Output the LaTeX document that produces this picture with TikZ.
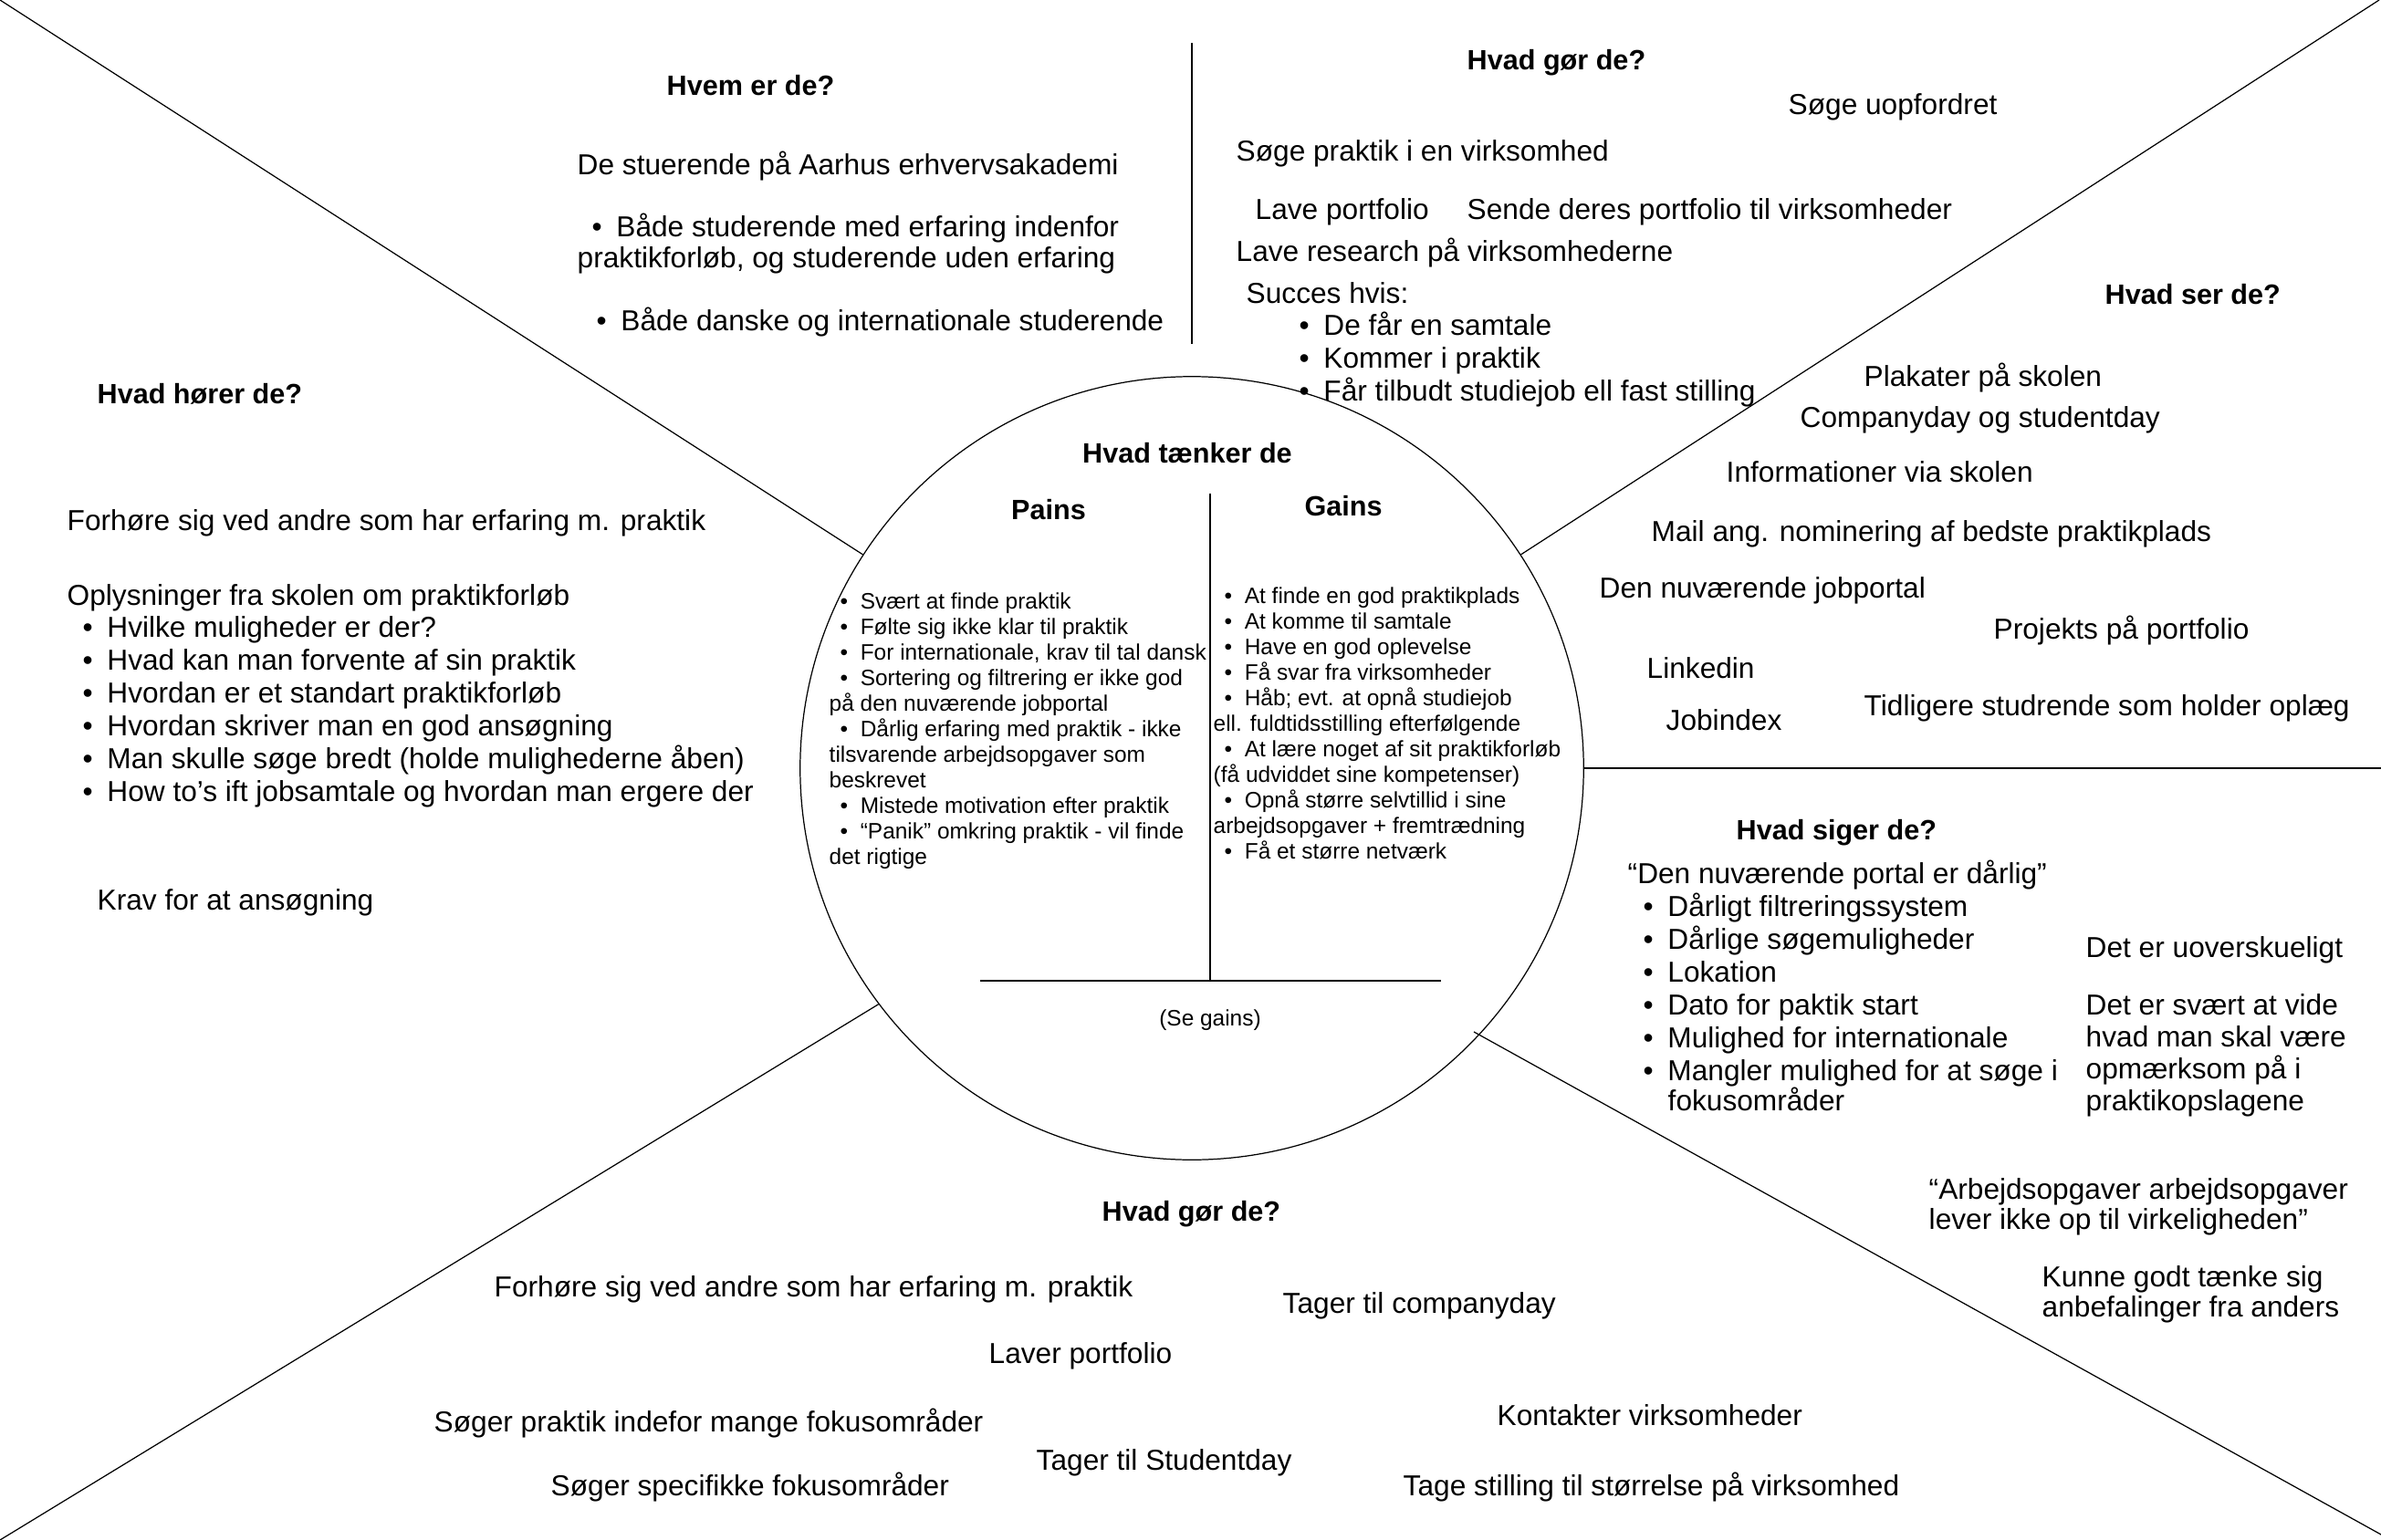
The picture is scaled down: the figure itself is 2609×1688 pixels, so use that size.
\documentclass[tikz,border=0pt]{standalone}
\usepackage{fontspec}
\setmainfont{Liberation Sans}
\usepackage{tikz}

\newcommand{\bul}{\makebox[7.6pt][l]{•}}
\newcommand{\sbul}{\hspace*{3.4pt}\makebox[6.3pt][l]{•}}

\begin{document}
\begin{tikzpicture}[x=0.01cm,y=-0.01cm,
  txt/.style={anchor=base west,inner sep=0,font=\fontsize{9}{11}\selectfont},
  sm/.style={anchor=base west,inner sep=0,font=\fontsize{6.95}{8.4}\selectfont},
  hd/.style={anchor=base west,inner sep=0,font=\fontsize{8.7}{10.5}\selectfont\bfseries},
  divider/.style={line width=0.35pt}]
\useasboundingbox (0,0) rectangle (2609,1688);

% middle circle
\node[circle,draw,divider,minimum size=8.58cm,inner sep=0] (think) at (1306,842) {};
\coordinate (tl) at (0,0);
\coordinate (tr) at (2607,0);
\coordinate (rr) at (2609,842);
\coordinate (br) at (2609,1682);
\coordinate (brin) at (1615,1131);
\coordinate (bl) at (0,1688);
\coordinate (vtop) at (1306,47);
\coordinate (vbot) at (1306,377);
\draw[divider] (tl) -- (think.147);
\draw[divider] (tr) -- (think.33);
\draw[divider] (rr) -- (think.east);
\draw[divider] (br) -- (brin);
\draw[divider] (bl) -- (think.217);
\draw[divider] (vtop) -- (vbot);

% pains / gains split
\coordinate (pgtop) at (1326,541);
\coordinate (pgbot) at (1326,1075);
\coordinate (pgl) at (1074,1075);
\coordinate (pgr) at (1579,1075);
\draw[divider] (pgtop) -- (pgbot);
\draw[divider] (pgl) -- (pgr);
\node[hd,anchor=base] (tanker) at (1301,507) {Hvad tænker de};
\node[hd,anchor=base] (pains) at (1149,569) {Pains};
\node[hd,anchor=base] (gains) at (1472,565) {Gains};
\node[sm,anchor=base] (segains) at (1326,1124) {(Se gains)};
\foreach \t [count=\i from 0] in {
  {\sbul Svært at finde praktik},
  {\sbul Følte sig ikke klar til praktik},
  {\sbul For internationale, krav til tal dansk},
  {\sbul Sortering og filtrering er ikke god},
  {på den nuværende jobportal},
  {\sbul Dårlig erfaring med praktik - ikke},
  {tilsvarende arbejdsopgaver som},
  {beskrevet},
  {\sbul Mistede motivation efter praktik},
  {\sbul “Panik” omkring praktik - vil finde},
  {det rigtige}}
  \node[sm] (pain-\i) at (908,{667+28*\i}) {\t};
\foreach \t [count=\i from 0] in {
  {\sbul At finde en god praktikplads},
  {\sbul At komme til samtale},
  {\sbul Have en god oplevelse},
  {\sbul Få svar fra virksomheder},
  {\sbul Håb; evt. at opnå studiejob},
  {ell. fuldtidsstilling efterfølgende},
  {\sbul At lære noget af sit praktikforløb},
  {(få udviddet sine kompetenser)},
  {\sbul Opnå større selvtillid i sine},
  {arbejdsopgaver + fremtrædning},
  {\sbul Få et større netværk}}
  \node[sm] (gain-\i) at (1329,{661+28*\i}) {\t};

% hvem er de
\node[hd] (hvem) at (730,105) {Hvem er de?};
\node[txt] (hvem-1) at (632,192) {De stuerende på Aarhus erhvervsakademi};
\node[txt] (hvem-2) at (648,259) {\bul Både studerende med erfaring indenfor};
\node[txt] (hvem-3) at (632,294) {praktikforløb, og studerende uden erfaring};
\node[txt] (hvem-4) at (653,362) {\bul Både danske og internationale studerende};

% hvad gør de (top)
\node[hd] (gor) at (1607,77) {Hvad gør de?};
\node[txt] (gor-1) at (1959,126) {Søge uopfordret};
\node[txt] (gor-2) at (1354,176) {Søge praktik i en virksomhed};
\node[txt] (gor-3) at (1375,241) {Lave portfolio};
\node[txt] (gor-4) at (1607,241) {Sende deres portfolio til virksomheder};
\node[txt] (gor-5) at (1354,287) {Lave research på virksomhederne};
\node[txt] (gor-6) at (1365,332) {Succes hvis:};
\foreach \t [count=\i from 0] in {De får en samtale,Kommer i praktik,Får tilbudt studiejob ell fast stilling}
  \node[txt] (succes-\i) at (1423,{367+36*\i}) {\bul\t};

% hvad ser de
\node[hd] (ser) at (2306,333) {Hvad ser de?};
\node[txt] (ser-1) at (2042,423) {Plakater på skolen};
\node[txt] (ser-2) at (1972,468) {Companyday og studentday};
\node[txt] (ser-3) at (1891,528) {Informationer via skolen};
\node[txt] (ser-4) at (1809,593) {Mail ang. nominering af bedste praktikplads};
\node[txt] (ser-5) at (1752,655) {Den nuværende jobportal};
\node[txt] (ser-6) at (2184,700) {Projekts på portfolio};
\node[txt] (ser-7) at (1804,743) {Linkedin};
\node[txt] (ser-8) at (2042,784) {Tidligere studrende som holder oplæg};
\node[txt] (ser-9) at (1825,800) {Jobindex};

% hvad hører de
\node[hd] (horer) at (106,442) {Hvad hører de?};
\node[txt] (horer-1) at (73,581) {Forhøre sig ved andre som har erfaring m. praktik};
\node[txt] (horer-2) at (73,663) {Oplysninger fra skolen om praktikforløb};
\foreach \t [count=\i from 0] in {Hvilke muligheder er der?,Hvad kan man forvente af sin praktik,Hvordan er et standart praktikforløb,Hvordan skriver man en god ansøgning,Man skulle søge bredt (holde mulighederne åben),How to’s ift jobsamtale og hvordan man ergere der}
  \node[txt] (opl-\i) at (90,{698+36*\i}) {\bul\t};
\node[txt] (horer-3) at (106,997) {Krav for at ansøgning};

% hvad siger de
\node[hd] (siger) at (1902,920) {Hvad siger de?};
\node[txt] (siger-1) at (1783,968) {“Den nuværende portal er dårlig”};
\foreach \t [count=\i from 0] in {Dårligt filtreringssystem,Dårlige søgemuligheder,Lokation,Dato for paktik start,Mulighed for internationale,Mangler mulighed for at søge i}
  \node[txt] (portal-\i) at (1800,{1004+36*\i}) {\bul\t};
\node[txt] (portal-6) at (1827,1217) {fokusområder};
\node[txt] (siger-2) at (2285,1049) {Det er uoverskueligt};
\node[txt] (siger-3) at (2285,1112) {Det er svært at vide};
\node[txt] (siger-4) at (2285,1147) {hvad man skal være};
\node[txt] (siger-5) at (2285,1182) {opmærksom på i};
\node[txt] (siger-6) at (2285,1217) {praktikopslagene};
\node[txt] (siger-7) at (2113,1314) {“Arbejdsopgaver arbejdsopgaver};
\node[txt] (siger-8) at (2113,1347) {lever ikke op til virkeligheden”};
\node[txt] (siger-9) at (2237,1410) {Kunne godt tænke sig};
\node[txt] (siger-10) at (2237,1443) {anbefalinger fra anders};

% hvad gør de (bottom)
\node[hd] (gor2) at (1207,1338) {Hvad gør de?};
\node[txt] (gor2-1) at (541,1421) {Forhøre sig ved andre som har erfaring m. praktik};
\node[txt] (gor2-2) at (1405,1439) {Tager til companyday};
\node[txt] (gor2-3) at (1083,1494) {Laver portfolio};
\node[txt] (gor2-4) at (475,1569) {Søger praktik indefor mange fokusområder};
\node[txt] (gor2-5) at (1640,1562) {Kontakter virksomheder};
\node[txt] (gor2-6) at (1135,1611) {Tager til Studentday};
\node[txt] (gor2-7) at (603,1639) {Søger specifikke fokusområder};
\node[txt] (gor2-8) at (1537,1639) {Tage stilling til størrelse på virksomhed};
\end{tikzpicture}
\end{document}
